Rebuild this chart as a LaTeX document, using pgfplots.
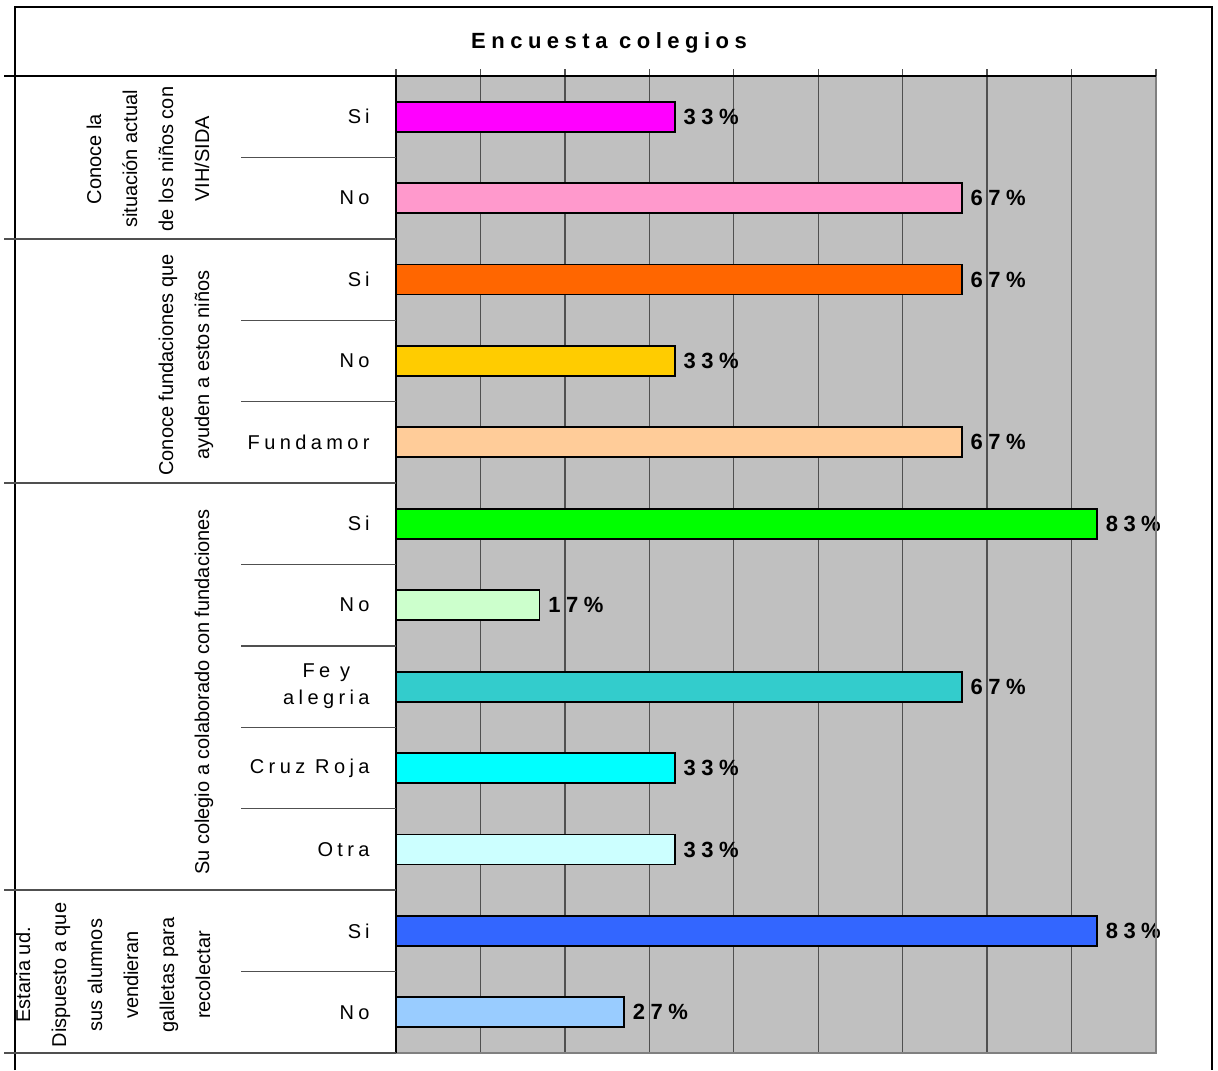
\documentclass[border=0pt]{standalone}
\usepackage{fontspec}
\setmainfont{Liberation Sans}
\newfontfamily\catfont[LetterSpace=22]{Liberation Sans}
\newfontfamily\lblfont[LetterSpace=25]{Liberation Sans}
\usepackage{pgfplots}
\pgfplotsset{compat=1.18}
\definecolor{bgray}{HTML}{C0C0C0}
\definecolor{gridc}{HTML}{505050}
\definecolor{edgeg}{HTML}{808080}
\definecolor{c1}{HTML}{FF00FF}
\definecolor{c2}{HTML}{FF99CC}
\definecolor{c3}{HTML}{FF6600}
\definecolor{c4}{HTML}{FFCC00}
\definecolor{c5}{HTML}{FFCC99}
\definecolor{c6}{HTML}{00FF00}
\definecolor{c7}{HTML}{CCFFCC}
\definecolor{c8}{HTML}{33CCCC}
\definecolor{c9}{HTML}{00FFFF}
\definecolor{c10}{HTML}{CCFFFF}
\definecolor{c11}{HTML}{3366FF}
\definecolor{c12}{HTML}{99CCFF}
\begin{document}
\begin{tikzpicture}
\begin{scope}[x=0.5pt,y=-0.5pt]
\path[use as bounding box] (0,0) rectangle (1218,1070);
\end{scope}
\begin{axis}[
  at={(198pt,-38pt)}, anchor=north west,
  scale only axis, width=380pt, height=488.5pt,
  xmin=0, xmax=90, ymin=-0.5, ymax=11.5, y dir=reverse,
  xbar, bar width=15pt, bar shift=0pt,
  ytick=\empty,
  xtick={0,10,20,30,40,50,60,70,80,90}, xticklabels={,,,,,,,,,},
  xtick pos=right, tick align=outside, major tick length=3.5pt,
  tick style={draw=gridc, line width=0.7pt},
  xmajorgrids, grid style={draw=gridc, line width=0.7pt},
  axis line style={draw=none},
  axis background/.style={fill=bgray},
  clip=false,
  point meta=x,
  /pgf/number format/assume math mode=true,
  nodes near coords={\pgfmathprintnumber{\pgfplotspointmeta}\%},
  every node near coord/.append style={font=\lblfont\bfseries\fontsize{11}{13}\selectfont, anchor=west, inner sep=0pt, xshift=4pt, text=black},
  every axis plot/.append style={draw=black, line width=0.9pt},
]
\addplot[fill=c1] coordinates {(33,0)};
\addplot[fill=c2] coordinates {(67,1)};
\addplot[fill=c3] coordinates {(67,2)};
\addplot[fill=c4] coordinates {(33,3)};
\addplot[fill=c5] coordinates {(67,4)};
\addplot[fill=c6] coordinates {(83,5)};
\addplot[fill=c7] coordinates {(17,6)};
\addplot[fill=c8] coordinates {(67,7)};
\addplot[fill=c9] coordinates {(33,8)};
\addplot[fill=c10] coordinates {(33,9)};
\addplot[fill=c11] coordinates {(83,10)};
\addplot[fill=c12] coordinates {(27,11)};
\end{axis}
\begin{scope}[x=0.5pt,y=-0.5pt]
% outer frame
\draw[line width=0.75pt] (15,1070) -- (15,7) -- (1212,7) -- (1212,1070);
% plot frame
\draw[edgeg, line width=1pt] (1156,76) -- (1156,1053) -- (396,1053);
\draw[black, line width=1pt] (396,1053) -- (396,76);
\draw[black, line width=0.7pt] (4,76) -- (1156,76);
\draw[gridc, line width=0.7pt] (4,1053) -- (396,1053);
% group separators
\foreach \yy in {238.83,483.08,890.17} \draw[gridc, line width=0.7pt] (4,\yy) -- (396,\yy);
% row separators
\foreach \yy in {157.42,320.25,401.67,564.5,645.92,727.33,808.75,971.58} \draw[gridc, line width=0.7pt] (241,\yy) -- (396,\yy);
% title
\node[anchor=base, font=\lblfont\bfseries\fontsize{11}{13}\selectfont] at (609,49) {Encuesta colegios};
% category labels
\begin{scope}[every node/.style={anchor=east, inner sep=0pt, font=\catfont}]
\node at (370,116.7) {S\hspace{2pt}i};
\node at (370,198.1) {No};
\node at (370,279.5) {S\hspace{2pt}i};
\node at (370,361.0) {No};
\node at (370,442.4) {Fundamor};
\node at (370,523.8) {S\hspace{2pt}i};
\node at (370,605.2) {No};
\node[align=center, font=\catfont\fontsize{10}{13.5}\selectfont] at (370,686.6) {Fe y\\alegria};
\node at (370,768.0) {Cruz Roja};
\node at (370,849.5) {Otra};
\node at (370,930.9) {S\hspace{2pt}i};
\node at (370,1012.3) {No};
\end{scope}
% group labels (rotated)
\begin{scope}[every node/.style={rotate=90, anchor=base, inner sep=0pt, font=\fontsize{10}{12}\selectfont}]
\node at (101,159) {Conoce la};
\node at (137,159) {situación actual};
\node at (173,159) {de los niños con};
\node at (209,159) {VIH/SIDA};
\node at (173,365) {Conoce fundaciones que};
\node at (209,365) {ayuden a estos niños};
\node at (209,692) {Su colegio a colaborado con fundaciones};
\node at (30,975) {Estaria ud.};
\node at (66,975) {Dispuesto a que};
\node at (102,975) {sus alumnos};
\node at (138,975) {vendieran};
\node at (174,975) {galletas para};
\node at (210,975) {recolectar};
\end{scope}
\end{scope}
\end{tikzpicture}
\end{document}
